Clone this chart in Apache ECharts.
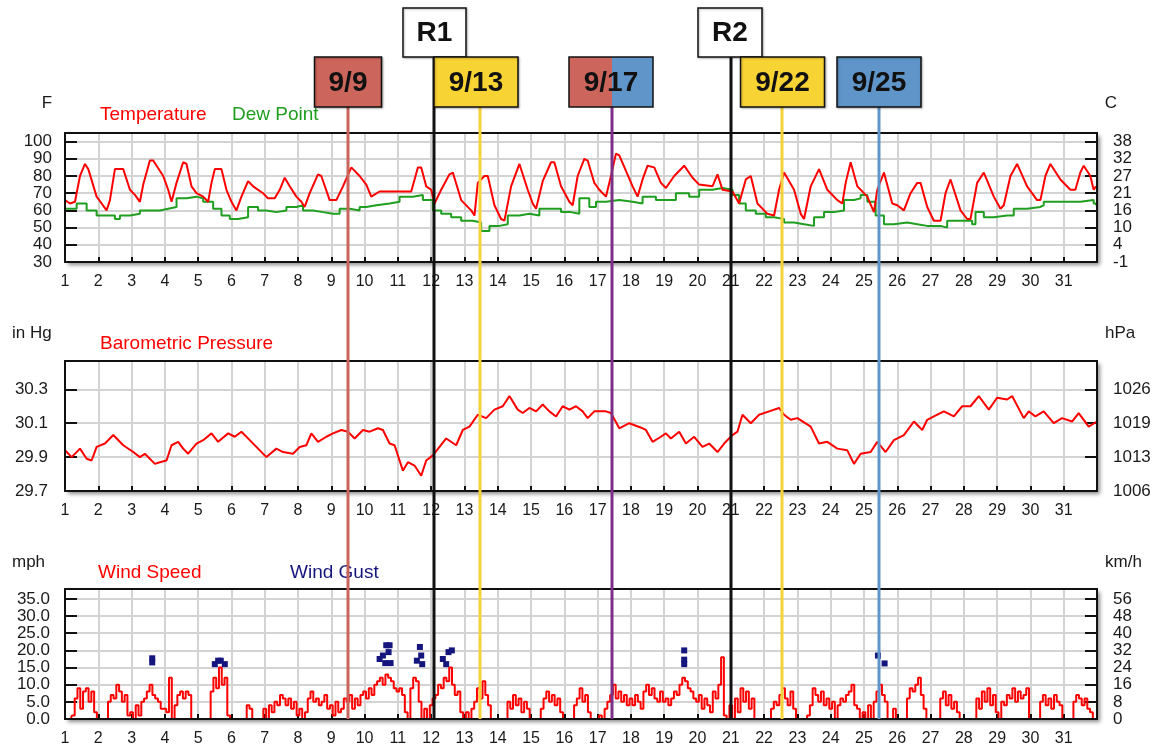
<!DOCTYPE html>
<html>
<head>
<meta charset="utf-8">
<script src="https://cdn.jsdelivr.net/npm/echarts@6/dist/echarts.min.js"></script>
<style>
  html, body { margin: 0; padding: 0; background: #fff; }
  #chart { width: 1158px; height: 751px; }
</style>
</head>
<body>
<div id="chart"></div>
<script>
// ---- Data: day of month (fractional) and reading ----
const temperatureF = [
  [1.0,66],[1.15,64],[1.3,65],[1.45,80],[1.6,87],[1.7,84],[1.95,68],[2.1,64],[2.25,60],[2.35,66],
  [2.5,84],[2.75,84],[2.95,72],[3.1,69],[3.25,65],[3.35,75],[3.55,89],[3.65,89],[3.95,80],[4.1,72],
  [4.2,65],[4.35,76],[4.55,88],[4.65,87],[4.8,74],[4.95,70],[5.15,68],[5.3,65],[5.4,76],[5.5,84],
  [5.7,84],[5.85,72],[6.0,65],[6.15,60],[6.3,68],[6.5,77],[6.65,74],[6.95,70],[7.1,67],[7.3,67],
  [7.45,72],[7.6,79],[7.75,74],[7.95,68],[8.1,65],[8.2,62],[8.35,70],[8.6,81],[8.7,80],[8.95,66],
  [9.15,66],[9.35,74],[9.6,85],[9.7,83],[9.85,80],[10.05,75],[10.2,68],[10.45,71],[11.4,71],[11.5,78],
  [11.6,85],[11.7,85],[11.85,74],[12.0,72],[12.1,64],[12.3,72],[12.55,81],[12.65,82],[12.9,66],[13.2,60],
  [13.3,57],[13.4,76],[13.6,80],[13.7,80],[13.9,63],[14.1,55],[14.2,54],[14.4,74],[14.65,87],[14.9,72],
  [15.05,64],[15.15,61],[15.35,77],[15.6,88],[15.7,88],[15.9,74],[16.15,65],[16.25,63],[16.4,80],[16.6,90],
  [16.7,89],[16.9,76],[17.05,72],[17.25,68],[17.4,80],[17.55,93],[17.65,92],[17.85,83],[18.05,74],[18.2,68],
  [18.35,78],[18.5,86],[18.7,85],[18.9,76],[19.05,73],[19.3,80],[19.6,86],[19.85,79],[20.05,75],[20.45,74],
  [20.6,81],[20.75,72],[21.05,71],[21.25,64],[21.45,78],[21.6,80],[21.8,64],[22.1,58],[22.3,57],[22.45,72],
  [22.6,82],[22.9,72],[23.1,58],[23.2,55],[23.4,74],[23.65,84],[23.9,72],[24.2,66],[24.35,64],[24.45,76],
  [24.6,88],[24.8,74],[25.1,68],[25.3,59],[25.4,72],[25.6,82],[25.85,64],[26.0,63],[26.2,60],[26.4,70],
  [26.6,76],[26.7,76],[26.9,62],[27.1,54],[27.3,54],[27.45,70],[27.6,78],[27.9,60],[28.1,55],[28.2,55],
  [28.4,76],[28.6,82],[28.9,68],[29.1,61],[29.2,63],[29.4,80],[29.6,87],[29.9,74],[30.2,66],[30.3,66],
  [30.45,80],[30.6,87],[30.9,78],[31.2,72],[31.35,72],[31.5,82],[31.6,86],[31.8,80],[31.9,72],[31.97,74]
];

const dewPointF = [
  [1.0,61],[1.35,64],[1.65,60],[1.95,57],[2.25,57],[2.5,55],[2.65,57],[2.95,58],[3.25,60],[3.55,60],
  [3.85,61],[4.1,62],[4.35,67],[4.65,68],[4.95,67],[5.15,65],[5.45,61],[5.7,57],[5.95,55],[6.2,56],
  [6.5,62],[6.8,60],[7.05,59],[7.35,60],[7.65,62],[7.95,63],[8.15,60],[8.45,59],[8.75,58],[9.05,58],
  [9.25,61],[9.55,60],[9.85,62],[10.05,63],[10.35,64],[10.75,65],[11.05,68],[11.45,69],[11.75,66],[12.05,60],
  [12.3,58],[12.6,56],[12.9,54],[13.25,53],[13.5,48],[13.75,51],[14.05,52],[14.3,57],[14.65,58],[14.95,57],
  [15.25,61],[15.55,61],[15.9,59],[16.2,58],[16.45,67],[16.75,62],[16.95,65],[17.25,66],[17.65,65],[18.05,64],
  [18.35,68],[18.75,66],[19.05,66],[19.35,70],[19.75,68],[20.05,72],[20.45,73],[20.75,72],[21.05,69],[21.25,64],
  [21.45,60],[21.75,58],[22.05,56],[22.3,55],[22.6,53],[22.9,52],[23.2,51],[23.5,56],[23.8,59],[24.1,60],
  [24.4,66],[24.7,67],[24.9,69],[25.1,65],[25.35,57],[25.6,52],[25.9,53],[26.3,52],[26.6,51],[26.9,51],
  [27.3,50],[27.5,54],[27.9,54],[28.25,52],[28.35,59],[28.6,56],[28.9,57],[29.3,57],[29.5,61],[29.9,62],
  [30.3,63],[30.4,65],[30.9,65],[31.5,66],[31.9,64],[31.97,63]
];

const pressureInHg = [
  [1.0,29.94],[1.2,29.90],[1.45,29.95],[1.65,29.89],[1.8,29.88],[1.95,29.96],[2.2,29.98],[2.45,30.03],[2.75,29.97],[3.05,29.93],
  [3.25,29.90],[3.4,29.92],[3.7,29.86],[3.85,29.87],[4.05,29.88],[4.2,29.97],[4.4,29.99],[4.55,29.95],[4.7,29.92],[4.95,29.98],
  [5.15,30.00],[5.4,30.04],[5.6,29.99],[5.9,30.04],[6.1,30.02],[6.3,30.05],[6.55,30.00],[6.8,29.95],[7.05,29.90],[7.35,29.95],
  [7.55,29.93],[7.85,29.92],[8.05,29.96],[8.25,29.97],[8.4,30.04],[8.6,29.99],[8.85,30.02],[9.05,30.04],[9.3,30.06],[9.5,30.05],
  [9.7,30.01],[9.95,30.06],[10.15,30.05],[10.4,30.07],[10.55,30.06],[10.75,29.98],[10.9,29.97],[11.15,29.82],[11.3,29.87],[11.5,29.85],
  [11.7,29.79],[11.85,29.88],[12.05,29.91],[12.25,29.96],[12.45,30.01],[12.75,29.97],[12.95,30.06],[13.15,30.08],[13.4,30.15],[13.65,30.13],
  [13.9,30.18],[14.15,30.20],[14.35,30.26],[14.6,30.18],[14.75,30.16],[14.95,30.19],[15.15,30.17],[15.35,30.21],[15.55,30.17],[15.75,30.14],
  [15.95,30.20],[16.15,30.18],[16.35,30.20],[16.55,30.17],[16.7,30.13],[16.9,30.17],[17.25,30.17],[17.4,30.16],[17.65,30.07],[17.95,30.10],
  [18.35,30.07],[18.45,30.06],[18.65,29.99],[18.9,30.02],[19.05,30.04],[19.2,30.01],[19.45,30.05],[19.65,29.98],[19.9,30.02],[20.15,29.96],
  [20.35,29.98],[20.6,29.93],[20.8,29.98],[21.05,30.03],[21.2,30.05],[21.35,30.15],[21.6,30.10],[21.85,30.15],[22.15,30.17],[22.45,30.19],
  [22.6,30.15],[22.8,30.12],[23.0,30.13],[23.4,30.08],[23.65,29.98],[23.9,29.99],[24.2,29.95],[24.5,29.94],[24.7,29.86],[24.9,29.92],
  [25.2,29.93],[25.4,29.99],[25.65,29.93],[25.9,30.00],[26.2,30.03],[26.5,30.11],[26.75,30.06],[26.9,30.12],[27.1,30.14],[27.4,30.17],
  [27.7,30.14],[27.95,30.20],[28.2,30.20],[28.45,30.26],[28.75,30.18],[29.0,30.25],[29.3,30.24],[29.45,30.26],[29.8,30.13],[29.95,30.17],
  [30.15,30.14],[30.4,30.17],[30.7,30.10],[30.95,30.13],[31.25,30.11],[31.45,30.16],[31.75,30.08],[32.0,30.11]
];

// Wind speed (mph), one reading every 2 hours from day 1 00:00; one row per day
const windSpeedMph = [
  0,0,0,1,6,9,3,8,9,5,8,2,
  0,0,0,0,5,7,6,10,8,5,7,1,
  2,0,4,1,5,6,8,10,7,6,5,3,
  3,2,12,0,4,7,8,6,8,7,0,0,
  0,0,0,0,0,8,12,9,15,10,12,1,
  0,0,0,0,0,0,4,3,0,0,0,0,
  3,0,4,2,5,4,7,6,4,6,3,5,
  1,3,0,2,6,8,5,6,4,5,7,3,
  4,1,5,2,3,6,5,7,3,6,4,7,
  8,6,9,7,10,11,12,10,13,12,11,9,
  8,9,7,2,0,9,12,11,5,0,3,0,
  4,6,7,10,9,12,11,15,10,7,8,2,
  0,2,0,3,5,9,6,11,7,4,0,0,
  0,0,0,0,5,3,7,4,6,2,5,3,
  0,0,0,0,3,6,8,5,7,4,6,2,
  0,0,0,0,4,6,9,5,7,2,0,0,
  0,1,0,3,5,7,10,6,8,5,7,4,
  6,4,7,5,3,8,10,7,9,6,5,8,
  5,6,4,6,8,7,10,12,11,9,8,6,
  5,7,3,6,4,2,8,6,10,18,1,0,
  4,0,6,2,9,5,8,3,6,0,0,0,
  0,0,0,3,5,4,7,9,6,4,8,3,
  0,0,0,0,1,4,9,7,5,8,4,6,
  3,5,0,4,6,5,7,8,10,4,3,0,
  2,0,4,0,5,8,10,7,5,0,0,3,
  0,0,0,0,6,9,8,10,12,7,3,0,
  0,0,0,0,6,8,4,7,3,5,2,0,
  0,0,0,0,0,6,3,8,5,9,4,7,
  2,0,5,4,7,6,9,5,8,6,7,9,
  0,0,0,0,5,7,4,6,3,7,5,4,
  0,0,0,0,5,7,6,4,6,3,2,0
];

const windGustMph = [
  [3.62,16.5],[3.62,17.7],
  [5.5,16],[5.6,17],[5.68,17],[5.8,16],
  [10.45,17.5],[10.55,18.5],[10.62,16.3],[10.65,21.5],[10.75,21.5],[10.72,19.5],[10.78,16.3],
  [11.57,17],[11.66,21],[11.7,18.5],[11.73,16],
  [12.35,17.5],[12.45,16],[12.52,19.5],[12.62,20],
  [19.6,20],[19.6,17.3],[19.6,16],
  [25.42,18.5],[25.62,16.2]
];

// Event annotations (day positions on the shared day axis)
const eventLabels = ['9/9', 'R1', '9/13', '9/17', 'R2', '9/22', '9/25'];
const eventDays   = [9.5, 12.08, 13.47, 17.42, 21.0, 22.55, 25.45];

// ---- Styling ----
const FONT = '"Liberation Sans", Arial, Helvetica, sans-serif';
const GRID_COLOR = '#d3d3d3';
const INK = '#1a1a1a';
const RED = '#ff0000';
const GREEN = '#1f9e1f';
const NAVY = '#15157e';
const PLOT_LEFT = 65, PLOT_RIGHT = 61, CHART_W = 1158;

const panels = [
  { top: 133, height: 129 },
  { top: 361, height: 130 },
  { top: 589, height: 130 }
];

const chart = echarts.init(document.getElementById('chart'), null, { renderer: 'canvas' });

// Plot areas: white face with a soft drop shadow; the black frame is drawn on top later
const grids = panels.map(p => ({
  left: PLOT_LEFT, right: PLOT_RIGHT, top: p.top, height: p.height,
  show: true, backgroundColor: '#fff', borderWidth: 0,
  shadowColor: 'rgba(0,0,0,0.45)', shadowBlur: 4, shadowOffsetX: 3, shadowOffsetY: 3
}));

const xAxes = panels.map((p, i) => ({
  type: 'value', gridIndex: i, min: 1, max: 32, interval: 1,
  axisLine: { show: false },
  axisTick: { inside: true, length: 5, lineStyle: { color: '#111', width: 2 } },
  axisLabel: {
    margin: 12, fontSize: 16, color: INK, fontFamily: FONT,
    formatter: v => (v <= 31 ? String(v) : '')
  },
  splitLine: { show: true, lineStyle: { color: GRID_COLOR, width: 2 } }
}));

function yAxisPair(gridIndex, min, max, interval, leftFmt, rightFmt, leftMargin) {
  const common = {
    type: 'value', gridIndex, min, max, interval,
    axisLine: { show: false },
    axisTick: { inside: true, length: 12, lineStyle: { color: '#111', width: 2 } }
  };
  const isTop = v => v > max - interval * 0.5 && Math.abs(((v - min) / interval) - Math.round((v - min) / interval)) > 1e-6;
  return [
    Object.assign({}, common, {
      position: 'left',
      axisLabel: { margin: leftMargin, fontSize: 17, color: INK, fontFamily: FONT,
        formatter: v => (isTop(v) ? '' : leftFmt(v)) },
      splitLine: { show: true, lineStyle: { color: GRID_COLOR, width: 2 } }
    }),
    Object.assign({}, common, {
      position: 'right',
      axisLabel: { margin: 16, fontSize: 17, color: INK, fontFamily: FONT,
        formatter: v => (isTop(v) ? '' : rightFmt(v)) },
      splitLine: { show: false }
    })
  ];
}

const yAxes = [].concat(
  yAxisPair(0, 30, 105, 10, v => String(Math.round(v)), v => String(Math.round((v - 32) * 5 / 9)), 13),
  yAxisPair(1, 29.7, 30.467, 0.2, v => v.toFixed(1), v => String(Math.round(v * 33.8639)), 17),
  yAxisPair(2, 0, 37.9, 5, v => v.toFixed(1), v => String(Math.round(v * 1.609344)), 15)
);

const windSeries = windSpeedMph.map((v, i) => [1 + i / 12, v]);

chart.setOption({
  animation: false,
  backgroundColor: '#fff',
  grid: grids,
  xAxis: xAxes,
  yAxis: yAxes,
  series: [
    { type: 'line', name: 'Dew Point', xAxisIndex: 0, yAxisIndex: 0, data: dewPointF,
      showSymbol: false, step: 'end', lineStyle: { color: GREEN, width: 2 } },
    { type: 'line', name: 'Temperature', xAxisIndex: 0, yAxisIndex: 0, data: temperatureF,
      showSymbol: false, lineStyle: { color: RED, width: 2 } },
    { type: 'line', name: 'Barometric Pressure', xAxisIndex: 1, yAxisIndex: 2, data: pressureInHg,
      showSymbol: false, lineStyle: { color: RED, width: 2 } },
    { type: 'line', name: 'Wind Speed', xAxisIndex: 2, yAxisIndex: 4, data: windSeries,
      showSymbol: false, step: 'middle', lineStyle: { color: RED, width: 2 } },
    { type: 'scatter', name: 'Wind Gust', xAxisIndex: 2, yAxisIndex: 4, data: windGustMph,
      symbol: 'rect', symbolSize: [6, 6], itemStyle: { color: NAVY, opacity: 1 } }
  ]
});

// ---- Panel captions and units ----
function label(text, x, y, opts) {
  return {
    type: 'text', z: 50,
    style: Object.assign({ text, x, y, fill: INK, font: '17px ' + FONT, align: 'left', verticalAlign: 'middle' }, opts || {})
  };
}

const captions = [
  label('F', 47, 103, { align: 'center' }),
  label('Temperature', 100, 115, { fill: RED, font: '19px ' + FONT }),
  label('Dew Point', 232, 115, { fill: GREEN, font: '19px ' + FONT }),
  label('C', 1111, 103, { align: 'center' }),
  label('in Hg', 12, 333),
  label('Barometric Pressure', 100, 344, { fill: RED, font: '19px ' + FONT }),
  label('hPa', 1105, 333),
  label('mph', 12, 562),
  label('Wind Speed', 98, 573, { fill: RED, font: '19px ' + FONT }),
  label('Wind Gust', 290, 573, { fill: NAVY, font: '19px ' + FONT }),
  label('km/h', 1105, 562)
];

// Black frame around each plot area
const frames = panels.map(p => ({
  type: 'rect', z: 40,
  shape: { x: PLOT_LEFT, y: p.top, width: CHART_W - PLOT_LEFT - PLOT_RIGHT, height: p.height },
  style: { fill: null, stroke: '#111', lineWidth: 2 }
}));

// ---- Event markers: vertical rule across all panels with a tag on top ----
const tagStyle = {
  '9/9':  { line: '#c9655c', fill: ['#cc655b'], row: 1, dx: -33.5, w: 67 },
  'R1':   { line: '#111111', fill: ['#ffffff'], row: 0, dx: -31,   w: 63 },
  '9/13': { line: '#f6d23a', fill: ['#f8d334'], row: 1, dx: -46,   w: 84 },
  '9/17': { line: '#7c2f86', fill: ['#cc655b', '#5f95c9'], row: 1, dx: -43, w: 84 },
  'R2':   { line: '#111111', fill: ['#ffffff'], row: 0, dx: -33,   w: 64 },
  '9/22': { line: '#f6d23a', fill: ['#f8d334'], row: 1, dx: -41.5, w: 84 },
  '9/25': { line: '#5f95c9', fill: ['#5f95c9'], row: 1, dx: -42,   w: 84 }
};
const rowTop = [8, 57];
const rowHeight = [49, 50];

function drawMarkers() {
  const yBottom = chart.convertToPixel({ yAxisIndex: 4 }, 0);
  const elems = [];
  eventLabels.forEach((name, i) => {
    const st = tagStyle[name];
    const x = Math.round(chart.convertToPixel({ xAxisIndex: 0 }, eventDays[i]));
    const top = rowTop[st.row];
    const h = rowHeight[st.row];
    const bx = x + st.dx;
    elems.push({
      type: 'line', z: 100,
      shape: { x1: x, y1: top + h, x2: x, y2: yBottom },
      style: { stroke: st.line, lineWidth: 3 }
    });
    if (st.fill.length === 2) {
      elems.push({ type: 'rect', z: 101, shape: { x: bx, y: top, width: x - bx, height: h },
        style: { fill: st.fill[0] } });
      elems.push({ type: 'rect', z: 101, shape: { x: x, y: top, width: bx + st.w - x, height: h },
        style: { fill: st.fill[1] } });
      elems.push({ type: 'rect', z: 102, shape: { x: bx, y: top, width: st.w, height: h },
        style: { fill: null, stroke: '#111', lineWidth: 1.5 } });
    } else {
      elems.push({ type: 'rect', z: 101, shape: { x: bx, y: top, width: st.w, height: h },
        style: { fill: st.fill[0], stroke: '#111', lineWidth: 1.5,
          shadowColor: 'rgba(0,0,0,0.25)', shadowBlur: 2, shadowOffsetX: 1, shadowOffsetY: 1 } });
    }
    elems.push({
      type: 'text', z: 103,
      style: { text: name, x: bx + st.w / 2, y: top + h / 2 + 1, align: 'center', verticalAlign: 'middle',
        font: 'bold 28px ' + FONT, fill: '#111' }
    });
  });
  chart.setOption({ graphic: { elements: captions.concat(frames, elems) } });
}
drawMarkers();
</script>
</body>
</html>
